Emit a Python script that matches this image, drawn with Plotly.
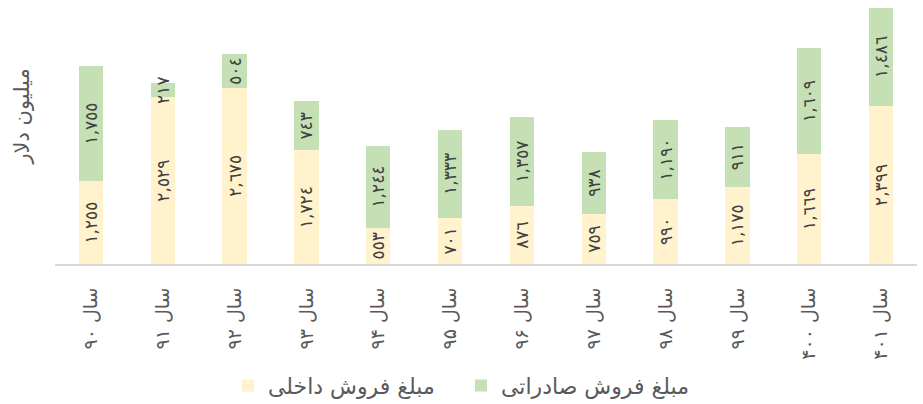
import plotly.graph_objects as go

# Fiscal years (Persian calendar)
years = ["سال ۹۰", "سال ۹۱", "سال ۹۲", "سال ۹۳", "سال ۹۴", "سال ۹۵",
         "سال ۹۶", "سال ۹۷", "سال ۹۸", "سال ۹۹", "سال ۴۰۰", "سال ۴۰۱"]

# Sales, million USD
domestic = [1255, 2529, 2675, 1724, 553, 701, 876, 759, 990, 1175, 1669, 2399]
exports = [1755, 217, 504, 743, 1244, 1333, 1357, 938, 1190, 911, 1609, 1486]

domestic_name = "مبلغ فروش داخلی"
exports_name = "مبلغ فروش صادراتی"
y_title = "میلیون دلار"

ARABIC_DIGITS = str.maketrans("0123456789", "٠١٢٣٤٥٦٧٨٩")


def fmt(v):
    return f"{v:,}".translate(ARABIC_DIGITS)


FONT = "DejaVu Sans"
LABEL_COLOR = "#404040"
TEXT_COLOR = "#595959"

fig = go.Figure()
for name, vals, color in [
    (domestic_name, domestic, "#FFF2CC"),
    (exports_name, exports, "#C5E0B4"),
]:
    fig.add_trace(go.Bar(
        x=years,
        y=vals,
        name=name,
        marker=dict(color=color, line=dict(width=0)),
        text=[fmt(v) for v in vals],
        textposition="inside",
        insidetextanchor="middle",
        textangle=-90,
        constraintext="none",
        textfont=dict(family=FONT, size=17, color=LABEL_COLOR),
        hoverinfo="x+y+name",
    ))

fig.update_layout(
    barmode="stack",
    bargap=0.66,
    width=923,
    height=404,
    margin=dict(l=55, r=6, t=5, b=140, autoexpand=False),
    paper_bgcolor="white",
    plot_bgcolor="white",
    font=dict(family=FONT, color=TEXT_COLOR),
    legend=dict(
        orientation="h",
        x=0.471, xanchor="center",
        y=-0.47, yanchor="middle",
        font=dict(family=FONT, size=22, color=TEXT_COLOR),
        traceorder="normal",
        itemwidth=30,
        entrywidth=188,
        entrywidthmode="pixels",
    ),
    uniformtext=dict(mode=False),
)

# vertical axis caption
fig.add_annotation(
    text=y_title,
    xref="paper", yref="paper",
    x=-0.038, y=0.57,
    xanchor="center", yanchor="middle",
    textangle=-90,
    showarrow=False,
    font=dict(family=FONT, size=21, color=TEXT_COLOR),
)

fig.update_xaxes(
    showline=True,
    linecolor="#D9D9D9",
    linewidth=2,
    showgrid=False,
    ticks="",
    tickangle=-90,
    ticklabelstandoff=14,
    automargin=False,
    tickfont=dict(family=FONT, size=19, color=TEXT_COLOR),
)

fig.update_yaxes(
    range=[0, 3930],
    showgrid=False,
    zeroline=False,
    showticklabels=False,
    ticks="",
    automargin=False,
)

fig.write_html("out.html")
